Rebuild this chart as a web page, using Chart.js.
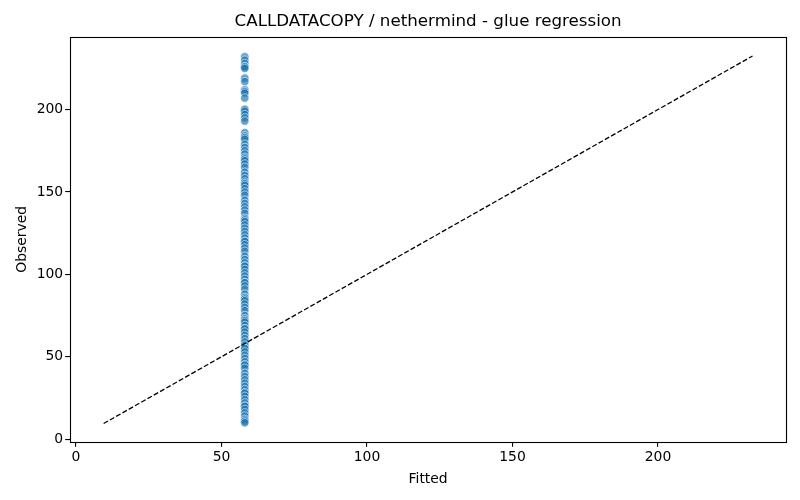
<!DOCTYPE html>
<html>
<head>
<meta charset="utf-8">
<script src="https://cdn.jsdelivr.net/npm/chart.js@4.4.1/dist/chart.umd.min.js"></script>
<style>
  html, body { margin: 0; padding: 0; background: #fff; }
  #wrap { width: 800px; height: 500px; }
</style>
</head>
<body>
<div id="wrap"><canvas id="chart"></canvas></div>
<script>
// fitted value is the same for every sample
const fittedValue = 58;

const observed = [
  232, 230, 228, 226, 226, 225,
  219, 217, 212, 211, 210, 207,
  200, 200, 199, 197, 195, 193,
  186, 184, 183, 182, 179, 177, 175, 173, 171, 170, 169, 167, 165, 162,
  160, 158, 156, 155, 154, 152, 150, 148, 145, 143, 141, 139, 137, 134,
  133, 132, 130, 128, 126, 124, 122, 120, 120, 118, 116, 114, 111, 109,
  107, 105, 105, 103, 101, 99, 97, 95, 95, 93, 91, 88, 86, 85, 84, 82,
  80, 78, 75, 73, 72, 71, 69, 67, 67, 65, 63, 61, 59, 57, 55, 55, 53,
  51, 49, 47, 45, 45, 43, 40, 38, 36, 34, 32, 30, 28, 28, 26, 24, 22,
  20, 20, 18, 16, 14, 12, 11, 10
];

// reference line y = x
const diagX = [9.5, 232.5];

const xTicks = [0, 50, 100, 150, 200];
const yTicks = [0, 50, 100, 150, 200];

const points = observed.map(v => ({ x: fittedValue, y: v }));
const diag = diagX.map(v => ({ x: v, y: v }));

// frame round the plot area, like the matplotlib axes box
const framePlugin = {
  id: 'frame',
  afterDraw(chart) {
    const a = chart.chartArea;
    const ctx = chart.ctx;
    ctx.save();
    ctx.strokeStyle = '#000';
    ctx.lineWidth = 1.1;
    ctx.strokeRect(Math.round(a.left) + 0.5, Math.round(a.top) + 0.5,
      Math.round(a.right - a.left), Math.round(a.bottom - a.top));
    ctx.restore();
  }
};

Chart.defaults.font.family = '"DejaVu Sans", sans-serif';
Chart.defaults.color = '#000';

new Chart(document.getElementById('chart'), {
  type: 'scatter',
  data: {
    datasets: [{
      label: 'samples',
      data: points,
      backgroundColor: 'rgba(31, 119, 180, 0.68)',
      borderColor: 'rgba(255, 255, 255, 0.7)',
      borderWidth: 0.8,
      pointRadius: 4.2,
      order: 2
    }, {
      label: 'y = x',
      data: diag,
      showLine: true,
      borderColor: '#000',
      borderWidth: 1.3,
      borderDash: [5, 2.2],
      pointRadius: 0,
      order: 1
    }]
  },
  options: {
    responsive: true,
    maintainAspectRatio: false,
    animation: false,
    layout: { padding: { left: 14, right: 14, top: 0, bottom: 12 } },
    plugins: {
      legend: { display: false },
      tooltip: { enabled: false },
      title: {
        display: true,
        fullSize: false,
        text: 'CALLDATACOPY / nethermind - glue regression',
        font: { size: 16.7, weight: 'normal' },
        color: '#000',
        padding: { top: 12, bottom: 5 }
      }
    },
    scales: {
      x: {
        type: 'linear',
        min: -2,
        max: 244,
        afterBuildTicks: s => { s.ticks = xTicks.map(v => ({ value: v })); },
        ticks: { font: { size: 13.9 }, padding: 2, maxRotation: 0 },
        grid: { drawOnChartArea: false, drawTicks: true, tickLength: 5, lineWidth: 1.1, color: '#000' },
        border: { display: false },
        title: { display: true, text: 'Fitted', font: { size: 13.9 }, padding: { top: 4, bottom: 0 } }
      },
      y: {
        type: 'linear',
        min: -1.5,
        max: 244,
        afterBuildTicks: s => { s.ticks = yTicks.map(v => ({ value: v })); },
        ticks: { font: { size: 13.9 }, padding: 2 },
        grid: { drawOnChartArea: false, drawTicks: true, tickLength: 5, lineWidth: 1.1, color: '#000' },
        border: { display: false },
        title: { display: true, text: 'Observed', font: { size: 13.9 }, padding: { top: 0, bottom: 4 } }
      }
    }
  },
  plugins: [framePlugin]
});
</script>
</body>
</html>
